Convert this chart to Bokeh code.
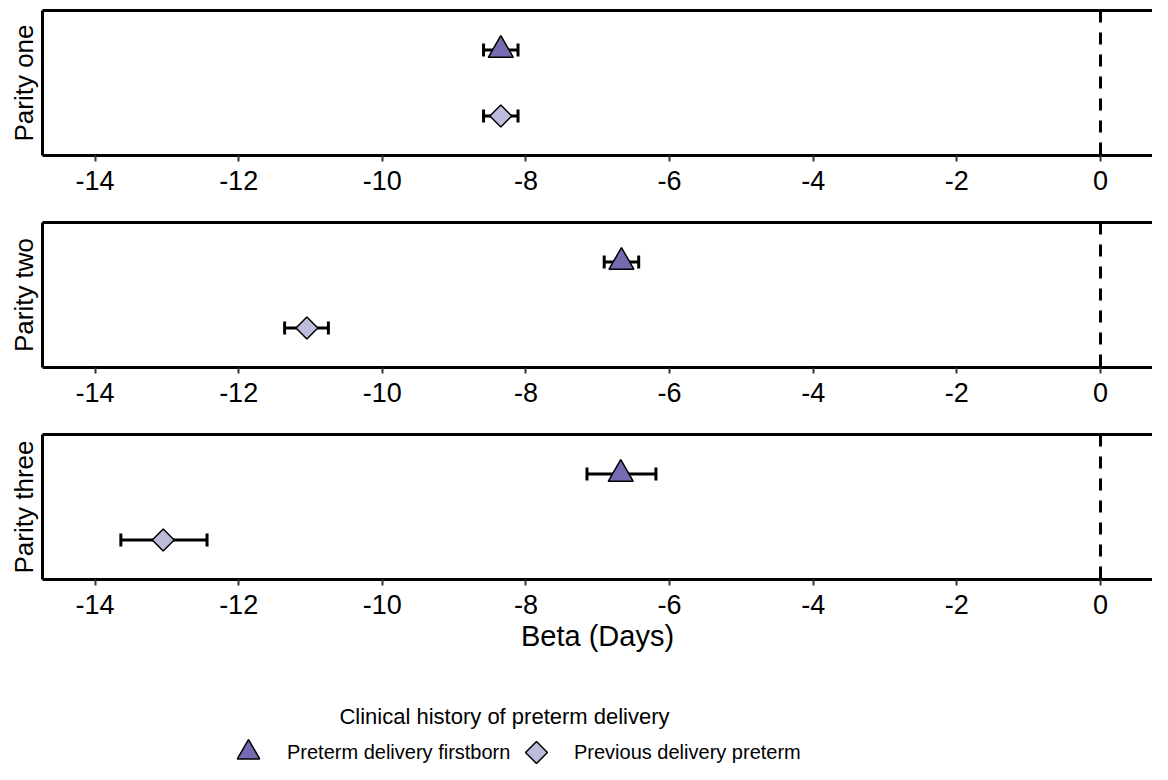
from bokeh.plotting import figure
from bokeh.models import (ColumnDataSource, Whisker, TeeHead, Span, LinearAxis,
                          FixedTicker, Range1d, Legend, LegendItem, Label)
from bokeh.layouts import column
from bokeh.embed import file_html
from bokeh.resources import INLINE
import math

# ---------------- data ----------------
panels = ["Parity one", "Parity two", "Parity three"]
groups = ["Preterm delivery firstborn", "Previous delivery preterm"]
beta_firstborn = [-8.35, -6.67, -6.68]
lower_firstborn = [-8.59, -6.91, -7.15]
upper_firstborn = [-8.11, -6.43, -6.19]
beta_previous = [-8.35, -11.05, -13.05]
lower_previous = [-8.59, -11.36, -13.64]
upper_previous = [-8.11, -10.75, -12.44]
group_pos = [2, 1]          # firstborn row above previous row
x_ticks = [-14, -12, -10, -8, -6, -4, -2, 0]
x_tick_labels = ["-14", "-12", "-10", "-8", "-6", "-4", "-2", "0"]
ref_value = 0
x_title = "Beta (Days)"
legend_title = "Clinical history of preterm delivery"

# ---------------- style ----------------
FONT = "Liberation Sans"
COL_FB = "#756bb1"
COL_PR = "#bcbddc"
W = 1152
LEFT = 42
X_RANGE = (-14.731, 0.724)
Y_RANGE = (0.4, 2.6)
TRI = dict(marker="triangle", fill_color=COL_FB, line_color="black", line_width=1.5)
DIA = dict(marker="square", angle=math.pi / 4, fill_color=COL_PR,
           line_color="black", line_width=1.5)


def make_panel(i, first, last):
    b_top = 10 if first else 2
    b_bottom = 83 if last else 65
    p = figure(width=W, height=b_top + 145 + b_bottom,
               x_range=Range1d(*X_RANGE), y_range=Range1d(*Y_RANGE),
               x_axis_location=None, y_axis_location=None,
               output_backend="svg", toolbar_location=None,
               min_border_left=LEFT, min_border_right=0,
               min_border_top=b_top, min_border_bottom=b_bottom)
    p.outline_line_color = None
    p.xgrid.visible = False
    p.ygrid.visible = False
    p.background_fill_color = "white"
    p.border_fill_color = "white"

    # bottom axis
    xa = LinearAxis(ticker=FixedTicker(ticks=x_ticks),
                    major_label_overrides=dict(zip(x_ticks, x_tick_labels)),
                    axis_line_width=3, axis_line_color="black",
                    major_tick_out=6, major_tick_in=0,
                    major_tick_line_color="#333333", major_tick_line_width=2,
                    minor_tick_out=0, minor_tick_in=0,
                    major_label_text_font=FONT,
                    major_label_text_font_size="27px",
                    major_label_text_color="black",
                    major_label_standoff=9)
    if last:
        xa.axis_label = x_title
        xa.axis_label_text_font = FONT
        xa.axis_label_text_font_size = "29px"
        xa.axis_label_text_font_style = "normal"
        xa.axis_label_text_color = "black"
        xa.axis_label_standoff = 3
    p.add_layout(xa, "below")

    # top border line
    ta = LinearAxis(ticker=FixedTicker(ticks=[]), axis_line_width=3,
                    axis_line_color="black", major_tick_out=0, major_tick_in=0,
                    minor_tick_out=0, minor_tick_in=0,
                    major_label_text_font_size="0px", major_label_standoff=0)
    p.add_layout(ta, "above")

    # left axis with panel label
    ya = LinearAxis(ticker=FixedTicker(ticks=[]), axis_line_width=3,
                    axis_line_color="black", major_tick_out=0, major_tick_in=0,
                    minor_tick_out=0, minor_tick_in=0,
                    major_label_text_font_size="0px", major_label_standoff=0,
                    axis_label=panels[i], axis_label_text_font=FONT,
                    axis_label_text_font_size="26px",
                    axis_label_text_font_style="normal",
                    axis_label_text_color="black",
                    axis_label_standoff=4)
    p.add_layout(ya, "left")

    # reference line
    p.add_layout(Span(location=ref_value, dimension="height",
                      line_color="black", line_width=3, line_dash="12 10"))

    src_fb = ColumnDataSource(dict(x=[beta_firstborn[i]], y=[group_pos[0]],
                                   lower=[lower_firstborn[i]], upper=[upper_firstborn[i]]))
    src_pr = ColumnDataSource(dict(x=[beta_previous[i]], y=[group_pos[1]],
                                   lower=[lower_previous[i]], upper=[upper_previous[i]]))

    for src in (src_fb, src_pr):
        wk = Whisker(source=src, base="y", lower="lower", upper="upper",
                     dimension="width", line_color="black", line_width=3,
                     lower_head=TeeHead(size=13, line_width=3, line_color="black"),
                     upper_head=TeeHead(size=13, line_width=3, line_color="black"),
                     level="underlay")
        p.add_layout(wk)

    p.scatter("x", "y", source=src_fb, size=25, **TRI)
    p.scatter("x", "y", source=src_pr, size=15.5, **DIA)
    return p


n = len(panels)
figs = [make_panel(i, i == 0, i == n - 1) for i in range(n)]

# ---------------- legend figure (screen-pixel coordinates) ----------------
LH = 102
FW = W - LEFT
lf = figure(width=W, height=LH, x_range=Range1d(0, FW), y_range=Range1d(0, LH),
            x_axis_location=None, y_axis_location=None,
            output_backend="svg", toolbar_location=None,
            min_border_left=LEFT, min_border_right=0,
            min_border_top=0, min_border_bottom=0)
lf.outline_line_color = None
lf.xgrid.visible = False
lf.ygrid.visible = False

nan = float("nan")
KEY_Y = 12
r_fb = lf.scatter(x=[nan], y=[nan], **TRI)
# legend icons ignore marker rotation, so the diamond key is drawn beside an
# invisible legend glyph
r_pr = lf.scatter(x=[nan], y=[nan], marker="square", fill_alpha=0, line_alpha=0)
lf.scatter(x=[494], y=[KEY_Y], size=15.5, **DIA)

common = dict(label_text_font=FONT, label_text_font_size="20px",
              label_text_color="black", padding=0, margin=0,
              border_line_color=None, background_fill_alpha=0)
leg1 = Legend(items=[LegendItem(label=groups[0], renderers=[r_fb])],
              location=(178, KEY_Y - 28), glyph_width=56, glyph_height=56,
              label_standoff=11, **common)
leg2 = Legend(items=[LegendItem(label=groups[1], renderers=[r_pr])],
              location=(474, KEY_Y - 20), glyph_width=40, glyph_height=40,
              label_standoff=18, **common)
lf.add_layout(leg1)
lf.add_layout(leg2)
lf.add_layout(Label(x=462, y=48, text=legend_title, text_align="center",
                    text_baseline="middle", text_font=FONT,
                    text_font_size="22px", text_color="black"))

layout = column(*figs, lf, spacing=0)
open("out.html", "w").write(file_html(layout, INLINE))
